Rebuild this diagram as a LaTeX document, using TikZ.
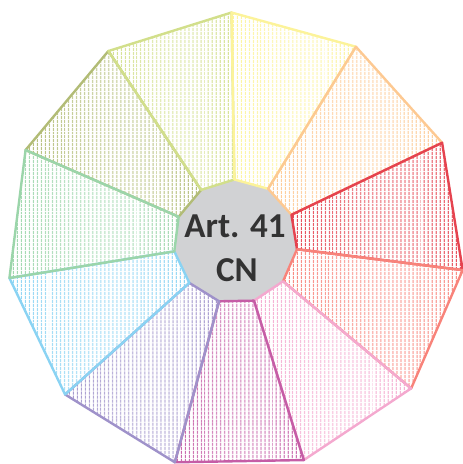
\documentclass[tikz,border=0pt]{standalone}
\usepackage{fontspec}
\setmainfont{Carlito}
\usetikzlibrary{patterns.meta}
\definecolor{cyel}{HTML}{FCF39A}
\definecolor{cora}{HTML}{FDC992}
\definecolor{cred}{HTML}{E5434F}
\definecolor{csal}{HTML}{F8837A}
\definecolor{cpink}{HTML}{F4A9CF}
\definecolor{cmag}{HTML}{C55DA6}
\definecolor{cpur}{HTML}{9F92CA}
\definecolor{cblue}{HTML}{8AD3F3}
\definecolor{cgreen}{HTML}{9BD5AA}
\definecolor{colive}{HTML}{B2BC76}
\definecolor{cyg}{HTML}{D2DF8B}
\definecolor{cgray}{HTML}{D1D2D4}
\definecolor{ctext}{HTML}{333333}
\tikzset{
  hatchfill/.style={pattern={Lines[angle=90, distance=4pt, line width=1.3pt]}, pattern color=hcol},
  segline/.style={line width=2.4pt, line join=round, draw=hcol},
  labeltext/.style={font=\bfseries\fontsize{35}{44}\selectfont, text=ctext, inner sep=0pt, anchor=base}
}
\begin{document}
\begin{tikzpicture}[x=1pt,y=1pt]
\useasboundingbox (0,0) rectangle (463,464);
\begin{scope}[shift={(235.5,222.5)}]
  \fill[cgray] (91:62) \foreach \k in {1,...,10}{ -- ({91-\k*360/11}:62)} -- cycle;
  \foreach \i/\segcol in {9/colive,10/cyg,0/cyel,1/cora,2/cred,3/csal,4/cpink,5/cmag,6/cpur,7/cblue,8/cgreen}{
    \colorlet{hcol}{\segcol}
    \pgfmathsetmacro\a{91-\i*360/11}
    \pgfmathsetmacro\b{91-(\i+1)*360/11}
    \path[hatchfill] (\a:229) -- (\b:229) -- (\b:62) -- (\a:62) -- cycle;
    \draw[segline] (\a:229) -- (\b:229) -- (\b:62) -- (\a:62) -- cycle;
  }
\end{scope}
\node[labeltext] (lblA) at (235,226) {Art. 41};
\node[labeltext] (lblB) at (237,182) {CN};
\end{tikzpicture}
\end{document}
